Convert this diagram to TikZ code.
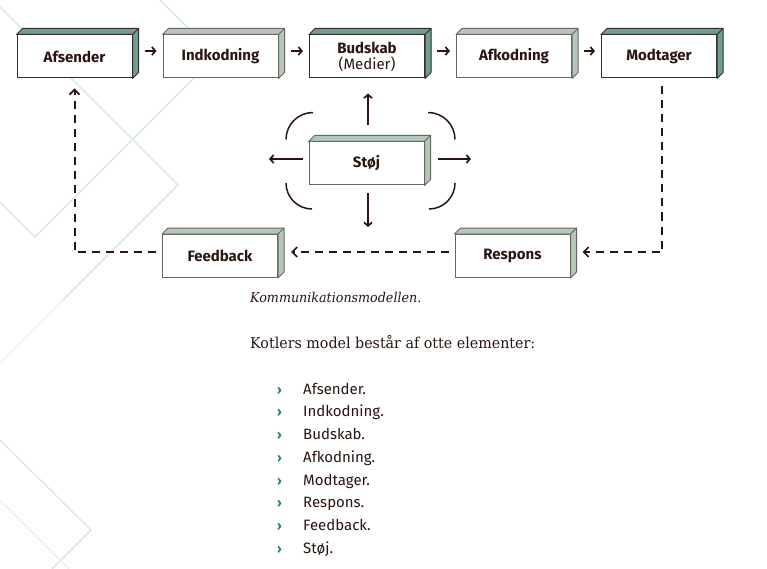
\documentclass[tikz,border=0pt]{standalone}
\usepackage{fontspec}
\setmainfont{Fira Sans}
\newfontfamily\serifh[FakeStretch=0.94]{DejaVu Serif}
\newfontfamily\serifhead[FakeStretch=0.95]{DejaVu Serif}
\usetikzlibrary{arrows.meta}
\definecolor{ink}{HTML}{2B1510}
\definecolor{edgelight}{HTML}{6E6560}
\definecolor{edgedark}{HTML}{3A2A24}
\definecolor{facedark}{HTML}{6A9F92}
\definecolor{facelight}{HTML}{B0C9BB}
\definecolor{bgline}{HTML}{D6E6E1}
\definecolor{bglinefaint}{HTML}{E6EFEC}
\definecolor{teal}{HTML}{2A7E6B}
\newcommand\cubefaces[3]{%
  \filldraw[fill=#2, draw=#3, line width=1pt, line join=round]
    (#1.north west) -- ++(6,-6) -- ([shift={(6,-6)}]#1.north east)
    -- ([shift={(6,-6)}]#1.south east) -- (#1.south east) -- (#1.north east) -- cycle;
  \draw[#3, line width=1pt] (#1.north east) -- ++(6,-6);
}
\tikzset{
  front/.style={rectangle, draw=edgelight, fill=white, line width=1pt,
    minimum width=115pt, minimum height=43pt, inner sep=0pt,
    font=\bfseries\fontsize{15}{16}\selectfont, text=ink, align=center},
  darkbox/.style={front, draw=edgedark},
  lightbox/.style={front},
  conn/.style={draw=ink, line width=1.7pt, -{Straight Barb[length=3.5pt,width=8pt]}},
  fb/.style={draw=ink, line width=2pt, dash pattern=on 8pt off 6pt,
    -{Straight Barb[length=5pt,width=10pt,line width=1.7pt]}},
  noise/.style={draw=ink, line width=1.5pt},
  bg/.style={draw=bgline, line width=1.2pt},
  bgfaint/.style={draw=bglinefaint, line width=1.2pt},
  itemtext/.style={anchor=base west, inner sep=0pt, text=ink, font=\fontsize{15}{18}\selectfont},
  bullettext/.style={anchor=base west, inner sep=0pt, text=teal, font=\bfseries\fontsize{13}{16}\selectfont},
}
\begin{document}
\begin{tikzpicture}[x=1pt,y=-1pt]
\useasboundingbox[fill=white] (0,0) rectangle (767,569);
% background diamonds
\draw[bg] (0,7) -- (178,185) -- (63,300);
\draw[bgfaint] (63,300) -- (0,363);
\draw[bg] (160,0) -- (216,56) -- (35,237) -- (0,202);
\draw[bg] (0,440) -- (91,530) -- (52,569);
\draw[bgfaint] (0,500) -- (69,569);

% boxes
\node[darkbox] (afs) at (74.5,56.5) {Afsender};
\cubefaces{afs}{facedark}{edgedark}
\node[lightbox] (ind) at (220.5,56.5) {Indkodning};
\cubefaces{ind}{facelight}{edgelight}
\node[darkbox] (bud) at (367,56.5) {Budskab\\{\mdseries (Medier)}};
\cubefaces{bud}{facedark}{edgedark}
\node[lightbox] (afk) at (514,56.5) {Afkodning};
\cubefaces{afk}{facelight}{edgelight}
\node[darkbox] (mod) at (659,56.5) {Modtager};
\cubefaces{mod}{facedark}{edgedark}
\node[lightbox] (stoj) at (366.5,163.5) {Støj};
\cubefaces{stoj}{facelight}{edgelight}
\node[lightbox] (feed) at (220,256) {Feedback};
\cubefaces{feed}{facelight}{edgelight}
\node[lightbox] (resp) at (512.5,256) {Respons};
\cubefaces{resp}{facelight}{edgelight}

% top row arrows
\draw[conn, shorten <=12pt, shorten >=6pt] ([yshift=5.5pt]afs.east) -- ([yshift=5.5pt]ind.west);
\draw[conn, shorten <=12pt, shorten >=6pt] ([yshift=5.5pt]ind.east) -- ([yshift=5.5pt]bud.west);
\draw[conn, shorten <=12pt, shorten >=6pt] ([yshift=5.5pt]bud.east) -- ([yshift=5.5pt]afk.west);
\draw[conn, shorten <=12pt, shorten >=6pt] ([yshift=5.5pt]afk.east) -- ([yshift=5.5pt]mod.west);

% noise arrows
\coordinate (dn) at (368,227);
\coordinate (lt) at (269,159);
\coordinate (rt) at (471,159);
\draw[conn] ([xshift=1.5pt,yshift=16pt]stoj.north) -- ([xshift=1pt,yshift=-15pt]bud.south);
\draw[conn] ([xshift=1.5pt,yshift=-8pt]stoj.south) -- (dn);
\draw[conn] ([xshift=-6pt,yshift=4.5pt]stoj.west) -- (lt);
\draw[conn] ([xshift=13pt,yshift=4.5pt]stoj.east) -- (rt);

% noise arcs
\draw[noise] (313,112.5) arc[start angle=90, end angle=180, radius=27pt];
\draw[noise] (428,112.5) arc[start angle=90, end angle=0, radius=27pt];
\draw[noise] (286,183) arc[start angle=180, end angle=270, radius=26pt];
\draw[noise] (455,183) arc[start angle=0, end angle=-90, radius=26pt];

% feedback loop
\draw[fb] ([xshift=3pt,yshift=-8pt]mod.south) |- ([xshift=12pt,yshift=4pt]resp.east);
\draw[fb, shorten <=6pt] ([yshift=4pt]resp.west) -- ([xshift=13pt,yshift=4pt]feed.east);
\draw[fb, shorten <=6pt] ([yshift=4pt]feed.west) -| ([yshift=-10pt]afs.south);

% texts
\node[anchor=base west, inner sep=0pt, text=ink, font=\serifh\itshape\fontsize{13.5}{15}\selectfont] (cap) at (250,302) {Kommunikationsmodellen.};
\node[anchor=base west, inner sep=0pt, text=ink, font=\serifhead\fontsize{15}{18}\selectfont] (head) at (250,348) {Kotlers model består af otte elementer:};
\foreach \t [count=\i from 0] in {Afsender.,Indkodning.,Budskab.,Afkodning.,Modtager.,Respons.,Feedback.,Støj.}{
  \node[bullettext] (bul\i) at (277,394+22.75*\i) {›};
  \node[itemtext] (item\i) at (303,394+22.75*\i) {\t};
}
\end{tikzpicture}
\end{document}
